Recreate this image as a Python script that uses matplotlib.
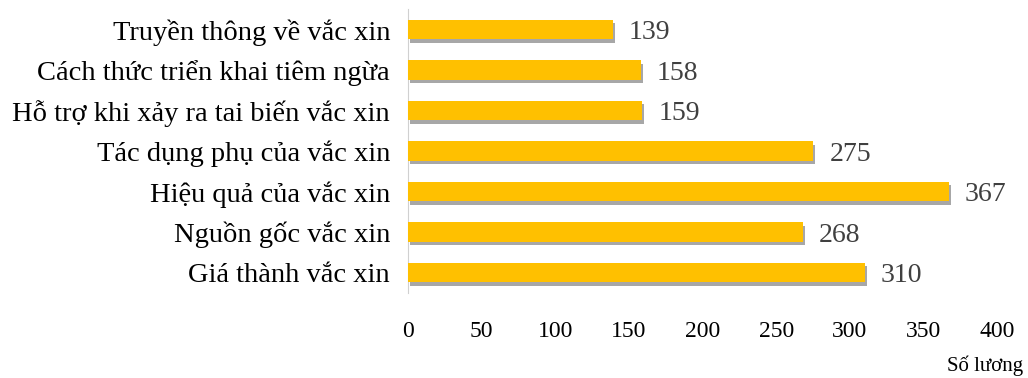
import matplotlib
matplotlib.use("Agg")
import matplotlib.pyplot as plt
import matplotlib.patheffects as pe

# -------- data --------
categories = [
    "Truyền thông về vắc xin",
    "Cách thức triển khai tiêm ngừa",
    "Hỗ trợ khi xảy ra tai biến vắc xin",
    "Tác dụng phụ của vắc xin",
    "Hiệu quả của vắc xin",
    "Nguồn gốc vắc xin",
    "Giá thành vắc xin",
]
values = [139, 158, 159, 275, 367, 268, 310]
x_ticks = [0, 50, 100, 150, 200, 250, 300, 350, 400]
x_label = "Số lương"
# ----------------------

plt.rcParams['font.family'] = ['Liberation Serif', 'DejaVu Serif']

fig = plt.figure(figsize=(10.28, 3.78), dpi=100)
ax = fig.add_axes([0.397, 0.225, 0.573, 0.75])

y = range(len(categories))
bars = ax.barh(y, values, height=0.48, color='#FFC000', zorder=3)
for b in bars:
    b.set_path_effects([pe.SimplePatchShadow(offset=(1.5, -2.5), shadow_rgbFace='#606060', alpha=0.55),
                        pe.Normal()])

for yi, v in zip(y, values):
    ax.text(v + 11, yi, str(v), va='center_baseline', ha='left', fontsize=20, color='#404040')

ax.set_ylim(-0.5, len(categories) - 0.5)
ax.invert_yaxis()
ax.set_xlim(0, 400)
ax.set_yticks(list(y))
ax.set_yticklabels(categories, fontsize=20.5, color='#000000')
ax.set_xticks(x_ticks)
ax.set_xticklabels([str(t) for t in x_ticks], fontsize=17, color='#000000')

ax.tick_params(axis='y', length=0, pad=13)
ax.tick_params(axis='x', length=0, pad=20)
for s in ['top', 'right', 'bottom']:
    ax.spines[s].set_visible(False)
ax.spines['left'].set_color('#d0d0d0')

fig.text(0.995, 0.005, x_label, ha='right', va='bottom', fontsize=15, color='#000000')

fig.savefig("out.png", dpi=100)
